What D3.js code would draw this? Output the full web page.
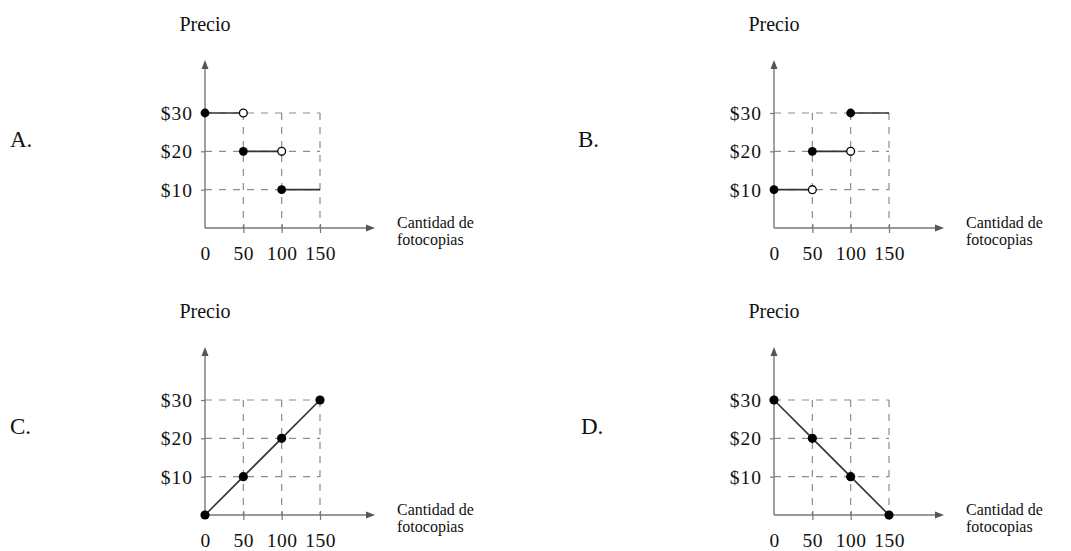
<!DOCTYPE html>
<html>
<head>
<meta charset="utf-8">
<script src="https://cdn.jsdelivr.net/npm/d3@7"></script>
<style>
  html, body { margin: 0; padding: 0; background: #fff; }
  svg { display: block; }
  text { font-family: "Liberation Serif", "Times New Roman", serif; fill: #111; }
</style>
</head>
<body>
<svg id="chart" width="1071" height="551"></svg>
<script>
// ---- data ----
const panelLetters = ["A.", "B.", "C.", "D."];
const xTicks = [0, 50, 100, 150];
const yTicks = [10, 20, 30];
const yTickLabels = ["$10", "$20", "$30"];
const yTitle = "Precio";
const xTitleLines = ["Cantidad de", "fotocopias"];

// step panels: segments [x0, x1, price], closed at x0, open at x1 (except last)
const stepsA = [[0, 50, 30], [50, 100, 20], [100, 150, 10]];
const stepsB = [[0, 50, 10], [50, 100, 20], [100, 150, 30]];
// line panels
const lineCx = [0, 50, 100, 150];
const lineCy = [0, 10, 20, 30];
const lineDx = [0, 50, 100, 150];
const lineDy = [30, 20, 10, 0];

const panels = [
  { letter: panelLetters[0], ox: 205, oy: 228, lx: 10, type: "step", steps: stepsA },
  { letter: panelLetters[1], ox: 774, oy: 228, lx: 578, type: "step", steps: stepsB },
  { letter: panelLetters[2], ox: 205, oy: 515, lx: 10, type: "line", xs: lineCx, ys: lineCy },
  { letter: panelLetters[3], ox: 774, oy: 515, lx: 581, type: "line", xs: lineDx, ys: lineDy }
];

const svg = d3.select("#chart");
const axisColor = "#777";
const gridColor = "#8c8c8c";
const markColor = "#333";

panels.forEach(p => {
  const g = svg.append("g");
  const x = d3.scaleLinear().domain([0, 150]).range([p.ox, p.ox + 115]);
  const y = d3.scaleLinear().domain([0, 30]).range([p.oy, p.oy - 115]);

  // panel letter
  g.append("text").attr("x", p.lx).attr("y", p.oy - 81)
    .attr("font-size", 23).text(p.letter);

  // dashed grid
  yTicks.forEach(v => {
    g.append("line").attr("x1", x(0)).attr("x2", x(150)).attr("y1", y(v)).attr("y2", y(v))
      .attr("stroke", gridColor).attr("stroke-width", 1.2).attr("stroke-dasharray", "7,7");
  });
  xTicks.filter(v => v > 0).forEach(v => {
    g.append("line").attr("x1", x(v)).attr("x2", x(v)).attr("y1", y(30)).attr("y2", y(0))
      .attr("stroke", gridColor).attr("stroke-width", 1.2).attr("stroke-dasharray", "7,7");
  });

  // x axis
  const xa = g.append("g").attr("transform", `translate(0,${p.oy})`)
    .call(d3.axisBottom(x).tickValues(xTicks).tickSize(5).tickFormat(d3.format("d")));
  xa.select(".domain").remove();
  xa.selectAll(".tick line").attr("stroke", axisColor).attr("stroke-width", 1.2)
    .attr("y1", -4).attr("y2", 5)
    .filter(d => d === 0).remove();
  xa.selectAll(".tick text").attr("font-family", "Liberation Serif").attr("font-size", 19.5)
    .attr("fill", "#111").attr("dy", null).attr("y", 32).attr("letter-spacing", 0.5);

  // y axis
  const ya = g.append("g").attr("transform", `translate(${p.ox},0)`)
    .call(d3.axisLeft(y).tickValues(yTicks).tickSize(4).tickFormat((d, i) => yTickLabels[i]));
  ya.select(".domain").remove();
  ya.selectAll(".tick line").attr("stroke", axisColor).attr("stroke-width", 1.2);
  ya.selectAll(".tick text").attr("font-family", "Liberation Serif").attr("font-size", 19.5)
    .attr("fill", "#111").attr("x", -12).attr("dy", "0.34em").attr("letter-spacing", 1);

  // axis lines with arrows
  const yTip = p.oy - 168, xTip = p.ox + 170;
  g.append("line").attr("x1", p.ox).attr("x2", p.ox).attr("y1", p.oy).attr("y2", yTip + 6)
    .attr("stroke", axisColor).attr("stroke-width", 1.4);
  g.append("path").attr("d", `M${p.ox},${yTip} L${p.ox - 3.5},${yTip + 9} L${p.ox + 3.5},${yTip + 9} Z`)
    .attr("fill", "#555");
  g.append("line").attr("x1", p.ox).attr("x2", xTip - 6).attr("y1", p.oy).attr("y2", p.oy)
    .attr("stroke", axisColor).attr("stroke-width", 1.4);
  g.append("path").attr("d", `M${xTip},${p.oy} L${xTip - 9},${p.oy - 3.5} L${xTip - 9},${p.oy + 3.5} Z`)
    .attr("fill", "#555");

  // titles
  g.append("text").attr("x", p.ox).attr("y", p.oy - 197).attr("text-anchor", "middle")
    .attr("font-size", 20).text(yTitle);
  xTitleLines.forEach((t, i) => {
    g.append("text").attr("x", p.ox + 192).attr("y", p.oy + i * 17)
      .attr("font-size", 16).text(t);
  });

  // marks
  if (p.type === "step") {
    p.steps.forEach((s, i) => {
      g.append("line").attr("x1", x(s[0])).attr("x2", x(s[1])).attr("y1", y(s[2])).attr("y2", y(s[2]))
        .attr("stroke", markColor).attr("stroke-width", 1.6);
      g.append("circle").attr("cx", x(s[0])).attr("cy", y(s[2])).attr("r", 4.4).attr("fill", "#000");
      if (i < p.steps.length - 1) {
        g.append("circle").attr("cx", x(s[1])).attr("cy", y(s[2])).attr("r", 3.9)
          .attr("fill", "#fff").attr("stroke", "#000").attr("stroke-width", 1.3);
      }
    });
  } else {
    const pts = p.xs.map((v, i) => [v, p.ys[i]]);
    g.append("path").datum(pts)
      .attr("d", d3.line().x(d => x(d[0])).y(d => y(d[1])))
      .attr("fill", "none").attr("stroke", markColor).attr("stroke-width", 1.6);
    g.selectAll("circle.pt").data(pts).enter().append("circle")
      .attr("cx", d => x(d[0])).attr("cy", d => y(d[1])).attr("r", 4.6).attr("fill", "#000");
  }
});
</script>
</body>
</html>
